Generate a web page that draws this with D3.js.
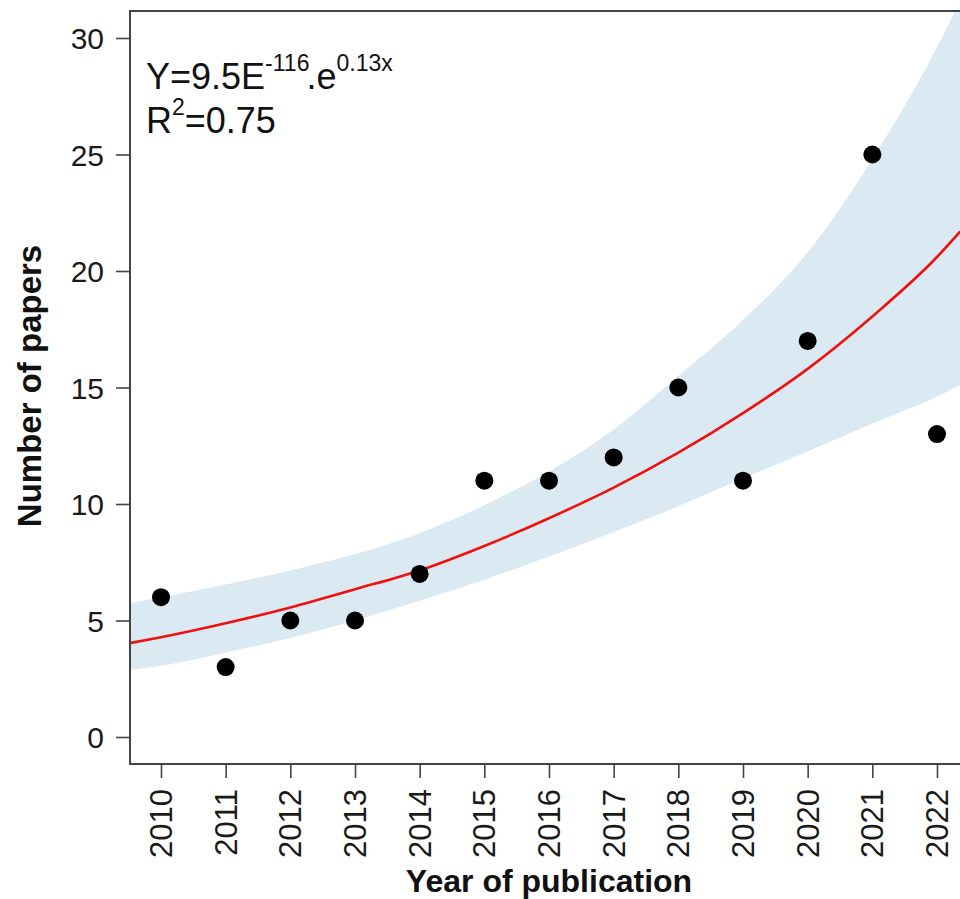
<!DOCTYPE html>
<html>
<head>
<meta charset="utf-8">
<script src="https://cdn.jsdelivr.net/npm/d3@7"></script>
<style>
  body { margin: 0; background: #fff; }
  svg { display: block; font-family: Arial, "Liberation Sans", Helvetica, sans-serif; }
</style>
</head>
<body>
<svg id="papersPlot"></svg>
<script>
(() => {
  // observed counts per year
  const years = [2010, 2011, 2012, 2013, 2014, 2015, 2016, 2017, 2018, 2019, 2020, 2021, 2022];
  const papers = [6, 3, 5, 5, 7, 11, 11, 12, 15, 11, 17, 25, 13];

  // fitted curve + band (first/last x are the plot edges)
  const fitYears = [2009.52, 2010, 2011, 2012, 2013, 2014, 2015, 2016, 2017, 2018, 2019, 2020, 2021, 2022, 2022.36];
  const fitValues = [4.03, 4.28, 4.88, 5.56, 6.34, 7.15, 8.2, 9.39, 10.7, 12.2, 13.9, 15.8, 18.05, 20.6, 21.7];
  const upperValues = [5.75, 6.0, 6.55, 7.15, 7.85, 8.75, 9.95, 11.4, 13.2, 15.5, 17.9, 20.8, 24.8, 29.6, 31.6];
  const lowerValues = [2.88, 3.06, 3.62, 4.25, 5.0, 5.85, 6.75, 7.75, 8.8, 9.9, 11.1, 12.25, 13.45, 14.6, 15.1];

  const yTicks = [0, 5, 10, 15, 20, 25, 30];

  const size = { width: 960, height: 899 };
  const plot = { left: 130, top: 11, bottom: 764, right: 970 };

  const svg = d3.select("#papersPlot")
    .attr("width", size.width)
    .attr("height", size.height);

  const x = d3.scaleLinear().domain([2010, 2022]).range([161, 937]);
  const y = d3.scaleLinear().domain([0, 30]).range([737, 38]);

  svg.append("defs")
    .append("clipPath")
    .attr("id", "plotClip")
    .append("rect")
    .attr("x", plot.left)
    .attr("y", plot.top)
    .attr("width", plot.right - plot.left)
    .attr("height", plot.bottom - plot.top);

  const fitData = fitYears.map((yr, i) => ({
    year: yr,
    fit: fitValues[i],
    upper: upperValues[i],
    lower: lowerValues[i],
  }));

  const inner = svg.append("g").attr("clip-path", "url(#plotClip)");

  const band = d3.area()
    .x((d) => x(d.year))
    .y0((d) => y(d.lower))
    .y1((d) => y(d.upper))
    .curve(d3.curveMonotoneX);

  inner.append("path")
    .datum(fitData)
    .attr("d", band)
    .attr("fill", "#dbeaf2");

  const fitLine = d3.line()
    .x((d) => x(d.year))
    .y((d) => y(d.fit))
    .curve(d3.curveMonotoneX);

  inner.append("path")
    .datum(fitData)
    .attr("d", fitLine)
    .attr("fill", "none")
    .attr("stroke", "#ee1111")
    .attr("stroke-width", 2.6);

  inner.selectAll(".pt")
    .data(years)
    .join("circle")
    .attr("class", "pt")
    .attr("cx", (d) => x(d))
    .attr("cy", (d, i) => y(papers[i]))
    .attr("r", 9)
    .attr("fill", "#000");

  // box (right side falls outside the picture)
  svg.append("rect")
    .attr("x", plot.left)
    .attr("y", plot.top)
    .attr("width", plot.right - plot.left)
    .attr("height", plot.bottom - plot.top)
    .attr("fill", "none")
    .attr("stroke", "#444")
    .attr("stroke-width", 2);

  // y axis
  const yAxis = svg.append("g")
    .attr("transform", `translate(${plot.left},0)`)
    .call(d3.axisLeft(y).tickValues(yTicks).tickSize(14).tickPadding(12).tickFormat(d3.format("d")));
  yAxis.select(".domain").remove();
  yAxis.selectAll("line").attr("stroke", "#444").attr("stroke-width", 1.6);
  yAxis.selectAll("text")
    .attr("fill", "#1a1a1a")
    .attr("dy", null)
    .attr("dominant-baseline", "central")
    .style("font-size", "30px");

  // x axis
  const xAxis = svg.append("g")
    .attr("transform", `translate(0,${plot.bottom})`)
    .call(d3.axisBottom(x).tickValues(years).tickSize(14).tickFormat(d3.format("d")));
  xAxis.select(".domain").remove();
  xAxis.selectAll("line").attr("stroke", "#444").attr("stroke-width", 1.6);
  xAxis.selectAll("text")
    .attr("fill", "#1a1a1a")
    .attr("y", 0)
    .attr("dy", null)
    .attr("transform", "translate(0,25) rotate(-90)")
    .attr("text-anchor", "end")
    .attr("dominant-baseline", "central")
    .style("font-size", "31px");

  // axis titles
  svg.append("text")
    .text("Year of publication")
    .attr("x", 549)
    .attr("y", 892)
    .attr("text-anchor", "middle")
    .style("font-size", "32px")
    .style("font-weight", "bold")
    .attr("fill", "#111");

  svg.append("text")
    .text("Number of papers")
    .attr("transform", `translate(41,386) rotate(-90)`)
    .attr("text-anchor", "middle")
    .style("font-size", "33px")
    .style("font-weight", "bold")
    .attr("fill", "#111");

  // equation
  const eq = svg.append("text")
    .attr("x", 146)
    .attr("y", 89)
    .style("font-size", "36px")
    .attr("fill", "#111");
  eq.append("tspan").text("Y=9.5E");
  eq.append("tspan").text("-116").attr("dy", -18).style("font-size", "23px");
  eq.append("tspan").text(".e").attr("dy", 18).attr("dx", -3);
  eq.append("tspan").text("0.13x").attr("dy", -18).style("font-size", "23px");

  const r2 = svg.append("text")
    .attr("x", 146)
    .attr("y", 133)
    .style("font-size", "36px")
    .attr("fill", "#111");
  r2.append("tspan").text("R");
  r2.append("tspan").text("2").attr("dy", -18).style("font-size", "23px");
  r2.append("tspan").text("=0.75").attr("dy", 18);
})();
</script>
</body>
</html>
